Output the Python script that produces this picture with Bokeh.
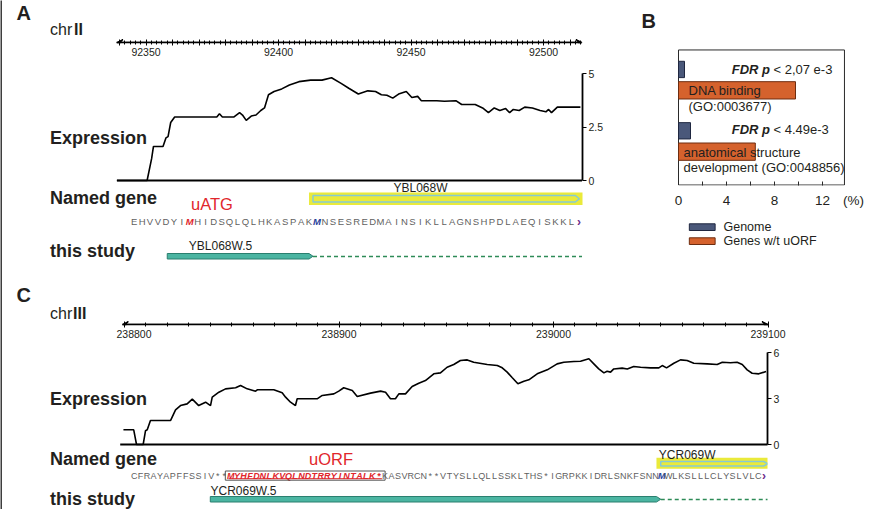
import numpy as np
from bokeh.plotting import figure
from bokeh.layouts import row, column
from bokeh.models import (Range1d, LinearAxis, FixedTicker, Label, Arrow, VeeHead,
                          ColumnDataSource, BasicTickFormatter)
from bokeh.core.properties import value
from bokeh.embed import file_html
from bokeh.resources import INLINE

FONT = "Liberation Sans"

# ---------------- data: panel A ----------------
A_CHR = "II"
A_AXIS_SPAN = [92339, 92514.5]
A_AXIS_LABELED = [92350, 92400, 92450, 92500]
A_EXPR_POS = [92339, 92350.4, 92352.1, 92352.8, 92356.4, 92357.5, 92358.3, 92359.3, 92360.8,
              92376.7, 92377.7, 92378.8, 92383.2, 92385.3, 92386.4, 92387.8, 92389.7, 92391.5,
              92393.3, 92394.7, 92396.2, 92398.3, 92401.2, 92404.1, 92407.7, 92412.1, 92416.4,
              92420.0, 92423.6, 92426.5, 92430.1, 92433.7, 92436.6, 92438.8, 92440.9, 92443.1,
              92445.3, 92448.2, 92450.3, 92452.5, 92453.9, 92459.7, 92462.6, 92466.9, 92469.1,
              92474.2, 92477.0, 92479.2, 92481.4, 92483.5, 92485.7, 92487.2, 92488.6, 92490.8,
              92492.9, 92495.8, 92498.7, 92500.9, 92501.9, 92503.0, 92505.2, 92513.9]
A_EXPR_VAL = [0, 0, 1.02, 1.59, 1.59, 1.99, 2.05, 2.71, 2.97,
              2.97, 3.12, 2.97, 2.97, 3.17, 3.06, 2.81, 3.01, 3.06,
              3.27, 3.39, 4.01, 4.16, 4.28, 4.46, 4.62, 4.69, 4.69,
              4.80, 4.54, 4.31, 4.04, 4.19, 4.16, 4.01, 3.98, 3.85,
              4.04, 4.16, 3.88, 3.93, 3.73, 3.73, 3.70, 3.73, 3.55,
              3.55, 3.39, 3.17, 3.39, 3.27, 3.36, 3.17, 3.32, 3.27,
              3.43, 3.39, 3.27, 3.21, 3.32, 3.17, 3.43, 3.43]
A_EXPR_TICKS = [0, 2.5, 5]
A_GENE_NAME = "YBL068W"
A_GENE_START = 92413
A_GENE_END = 92514
A_STUDY_NAME = "YBL068W.5"
A_STUDY_START = 92358
A_STUDY_END = 92413
A_SEQ = "EHVVDYIMHIDSQLQLHKASPAKMNSESREDMAINSIKLLAGNSHPDLAEQISKKL"
A_SEQ_START = 92344
A_UATG_INDEX = 7
A_ATG_INDEX = 23

# ---------------- data: panel B ----------------
B_TERMS = ["DNA binding", "anatomical structure"]
B_TERMS_2 = ["(GO:0003677)", "development (GO:0048856)"]
B_FDR = ["< 2,07 e-3", "< 4.49e-3"]
B_GENOME = [0.5, 1.0]
B_UORF = [9.75, 6.4]
B_TICKS = [0, 4, 8, 12]
B_MINOR = [2, 4, 6, 8, 10, 12]
B_UNIT = "(%)"
B_SERIES = ["Genome", "Genes w/t uORF"]

# ---------------- data: panel C ----------------
C_CHR = "III"
C_AXIS_SPAN = [238799, 239100]
C_AXIS_LABELED = [238800, 238900, 239000, 239100]
C_EXPR_POS = [238799.5, 238804.3, 238805.6, 238808.7, 238809.8, 238810.6, 238812.1, 238821.5, 238823.8, 238826.1,
              238829.2, 238831.6, 238834.6, 238837.8, 238840.1, 238840.9, 238844.0, 238847.1, 238851.8, 238854.1,
              238857.2, 238861.1, 238861.9, 238869.6, 238873.5, 238875.1, 238877.4, 238879.7, 238880.5, 238889.8,
              238892.2, 238897.6, 238899.9, 238902.2, 238906.2, 238908.5, 238914.7, 238919.4, 238921.7, 238924.0,
              238926.3, 238927.9, 238931.0, 238934.1, 238937.2, 238940.3, 238944.2, 238947.3, 238950.4, 238953.5,
              238956.6, 238959.8, 238962.8, 238969.1, 238973.8, 238976.1, 238978.4, 238980.8, 238983.4, 238986.2,
              238988.5, 238992.4, 238997.1, 239001.7, 239004.8, 239009.5, 239012.6, 239016.5, 239018.8, 239021.1,
              239023.5, 239025.0, 239026.6, 239028.1, 239032.0, 239034.4, 239037.4, 239040.6, 239045.2, 239049.1,
              239050.7, 239052.7, 239056.1, 239059.2, 239062.3, 239065.4, 239071.7, 239076.3, 239078.7, 239082.5,
              239085.6, 239088.0, 239090.3, 239092.6, 239095.7, 239099.1]
C_EXPR_VAL = [0.96, 0.96, 0, 0, 0.9, 0.96, 1.57, 1.57, 2.26, 2.54,
              2.65, 2.96, 2.54, 2.76, 2.54, 3.09, 3.41, 3.63, 3.70, 3.85,
              3.63, 3.48, 3.57, 3.57, 3.37, 3.09, 2.76, 2.54, 2.98, 2.98,
              3.2, 3.3, 3.48, 3.70, 3.52, 3.13, 3.35, 3.48, 3.41, 2.98,
              2.98, 3.3, 3.3, 3.78, 4.0, 4.17, 4.61, 4.67, 5.04, 5.22,
              5.48, 5.52, 5.37, 5.22, 5.15, 5.0, 4.72, 4.35, 3.96, 4.13,
              4.22, 4.61, 4.87, 5.26, 5.37, 5.41, 5.43, 5.59, 5.26, 4.93,
              4.67, 4.78, 4.72, 4.93, 4.98, 4.93, 5.09, 5.04, 5.0, 5.0,
              5.15, 5.0, 5.3, 5.52, 5.48, 5.3, 5.26, 5.22, 5.37, 5.33,
              5.37, 5.22, 4.87, 4.65, 4.61, 4.76]
C_EXPR_TICKS = [0, 3, 6]
C_GENE_NAME = "YCR069W"
C_GENE_START = 239049
C_GENE_END = 239100
C_STUDY_NAME = "YCR069W.5"
C_STUDY_START = 238840
C_STUDY_END = 239050
C_SEQ = "CFRAYAPFFSSIV**MYHFDNLKVQLNDTRRYINTALK*KASVRCN**VTYSLLQLLSSKLTHS*IGRPKKIDRLSNKFSNNMWLKSLLLCLYSLVLC"
C_SEQ_START = 238803
C_UORF_INDEX = (15, 38)
C_ATG_INDEX = 82

# ---------------- styles / layout calibration ----------------
DARK = "#231f20"
RED = "#e1262c"
BLUE = "#27409a"
PURPLE = "#6b2a8c"
SEQ_GRAY = "#5f5f5f"
YELLOW = "#eaea3a"
GENE_LINE = "#86cbd4"
TEAL = "#4bb5a2"
TEAL_LINE = "#2b7f6f"
DASH = "#2e8b57"
NAVY = "#4a587a"
NAVY_LINE = "#1f2740"
ORANGE = "#d5622d"
ORANGE_LINE = "#6e2d10"

A_PX0, A_BP0, A_SCALE = 344.3, 92425, 2.65
C_PX0, C_BP0, C_SCALE = 124.0, 238800, 2.145
B_PX0, B_SCALE, B_BOX_MAX = 678.0, 12.0, 13.83


def bpA(px):
    return A_BP0 + (px - A_PX0) / A_SCALE


def bpC(px):
    return C_BP0 + (px - C_PX0) / C_SCALE


def pctB(px):
    return (px - B_PX0) / B_SCALE


def make_fig(width, height, page_left, page_top, fl, fr, ft, fb, xr=None, yr=None):
    if xr is None:
        xr = Range1d(fl, fr)
    if yr is None:
        yr = Range1d(fb, ft)
    p = figure(width=width, height=height, x_range=xr, y_range=yr,
               output_backend="svg", toolbar_location=None, title=None,
               x_axis_location=None, y_axis_location=None,
               min_border_left=int(round(fl - page_left)),
               min_border_right=int(round(page_left + width - fr)),
               min_border_top=int(round(ft - page_top)),
               min_border_bottom=int(round(page_top + height - fb)))
    p.grid.visible = False
    p.outline_line_color = None
    p.background_fill_color = "white"
    p.border_fill_color = "white"
    p.extra_x_ranges = {"px": Range1d(fl, fr)}
    p.extra_y_ranges = {"py": Range1d(fb, ft)}
    return p


def lab(p, x, y, text, size, style="normal", color=DARK, align="left"):
    p.add_layout(Label(x=x, y=y, x_range_name="px", y_range_name="py", text=text,
                       text_font=FONT, text_font_size=f"{size}px", text_font_style=style,
                       text_color=color, text_align=align, text_baseline="middle"))


def chr_axis(p, span, majors, minors, labeled):
    over = {t: (str(t) if t in labeled else "") for t in majors}
    ax = LinearAxis(ticker=FixedTicker(ticks=majors, minor_ticks=minors), bounds=tuple(span),
                    formatter=BasicTickFormatter(use_scientific=False),
                    major_label_overrides=over,
                    major_tick_in=3, major_tick_out=3, minor_tick_in=2, minor_tick_out=2,
                    axis_line_width=1.5, major_tick_line_width=1, minor_tick_line_width=1,
                    major_label_standoff=2, major_label_text_font=FONT,
                    major_label_text_font_size="10.5px", major_label_text_color=DARK)
    p.add_layout(ax, "below")
    p.add_layout(Arrow(start=VeeHead(size=6, line_width=1.2), end=VeeHead(size=6, line_width=1.2),
                       x_start=span[0], y_start=0, x_end=span[1], y_end=0,
                       line_width=1.5, line_color="black"))


def expr_axis(p, ticks):
    over = {t: f"{t:g}" for t in ticks}
    ax = LinearAxis(ticker=FixedTicker(ticks=ticks), bounds=(ticks[0], ticks[-1]),
                    major_label_overrides=over, major_tick_in=0, major_tick_out=4,
                    minor_tick_in=0, minor_tick_out=0, axis_line_width=1.8,
                    major_tick_line_width=1.2, major_label_standoff=2,
                    major_label_text_font=FONT, major_label_text_font_size="10.5px",
                    major_label_text_color=DARK)
    p.add_layout(ax, "right")


def seq_glyph(p, seq, start, y, size, special):
    xs = [start + 3 * i + 1.5 for i in range(len(seq))]
    colors, styles = [], []
    for i in range(len(seq)):
        c, s = special.get(i, (SEQ_GRAY, "normal"))
        colors.append(c)
        styles.append(s)
    src = ColumnDataSource(dict(x=xs, ch=list(seq), color=colors, style=styles))
    p.text(x="x", y=y, text="ch", source=src, y_range_name="py", text_color="color",
           text_font_style="style", text_font=value(FONT), text_font_size=f"{size}px",
           text_align="center", text_baseline="middle")


def arrow_bar(p, x0, x1, ytop, ybot, tip, **kw):
    ym = (ytop + ybot) / 2
    p.patch([x0, x1 - tip, x1, x1 - tip, x0], [ytop, ytop, ym, ybot, ybot], y_range_name="py", **kw)


# ---------------- left strip ----------------
strip = figure(width=2, height=509, output_backend="svg", toolbar_location=None, title=None,
               x_axis_location=None, y_axis_location=None, min_border=0,
               background_fill_color="#3d3d3d", border_fill_color="#3d3d3d")
strip.outline_line_color = None
strip.grid.visible = False

# ---------------- Panel A ----------------
labA1 = make_fig(114, 62, 2, 0, 2, 116, 0, 62)
lab(labA1, 16, 19, "A", 20, "bold")
lab(labA1, 49.5, 43, "chr", 16)
lab(labA1, 73.5, 43, A_CHR, 16, "bold")

axA1 = make_fig(514, 62, 116, 0, 116, 630, 0, 42, Range1d(bpA(116), bpA(630)), Range1d(0, 1))
a_majors = list(range(92340, 92511, 10))
a_minors = list(range(92340, 92515, 2))
chr_axis(axA1, A_AXIS_SPAN, a_majors, a_minors, A_AXIS_LABELED)

pA2 = make_fig(628, 223, 2, 62, 2, 582, 62, 285, Range1d(bpA(2), bpA(582)),
               Range1d((180 - 285) / 21.4, (180 - 62) / 21.4))
expr_axis(pA2, A_EXPR_TICKS)
pA2.segment(x0=[A_AXIS_SPAN[0]], y0=[0], x1=[A_AXIS_SPAN[1]], y1=[0], line_width=2, line_color="black")
pA2.line(A_EXPR_POS, A_EXPR_VAL, line_color="black", line_width=1.6)
pA2.quad(left=[A_GENE_START - 1.5], right=[A_GENE_END + 2], top=[192], bottom=[204.5],
         y_range_name="py", fill_color=YELLOW, line_color=None)
arrow_bar(pA2, A_GENE_START, A_GENE_END - 0.5, 195, 201.5, 1.5,
          fill_alpha=0, line_color=GENE_LINE, line_width=1.5)
seq_glyph(pA2, A_SEQ, A_SEQ_START, 221, 9.5,
          {A_UATG_INDEX: (RED, "bold italic"), A_ATG_INDEX: (BLUE, "bold italic")})
lab(pA2, 578.5, 221, "\u203a", 12, "bold", PURPLE, align="center")
arrow_bar(pA2, A_STUDY_START, A_STUDY_END, 253, 258.5, 1.5,
          fill_color=TEAL, line_color=TEAL_LINE, line_width=1)
pA2.segment(x0=[A_STUDY_END], y0=[256], x1=[A_AXIS_SPAN[1]], y1=[256], y_range_name="py",
            line_dash="4 3", line_color=DASH, line_width=1.5)
lab(pA2, 49.5, 137, "Expression", 18, "bold")
lab(pA2, 49.5, 197, "Named gene", 18, "bold")
lab(pA2, 49.5, 250, "this study", 18, "bold")
lab(pA2, 190.5, 203, "uATG", 16.5, "normal", RED)
lab(pA2, 420, 187.5, A_GENE_NAME, 12, align="center")
lab(pA2, 220, 245, A_STUDY_NAME, 12, align="center")

# ---------------- Panel B ----------------
pB = make_fig(248, 210, 630, 0, 632, 878, 0, 187, Range1d(pctB(632), pctB(878)), Range1d(187, 0))
pB.quad(left=[0], right=[B_BOX_MAX], top=[50], bottom=[186.5], fill_alpha=0,
        line_color="#2a2a2a", line_width=1)
pB.hbar(y=[69.7, 131.7], height=16.5, left=0, right=B_GENOME,
        fill_color=NAVY, line_color=NAVY_LINE, line_width=1)
pB.hbar(y=[90.8, 152.8], height=17.5, left=0, right=B_UORF,
        fill_color=ORANGE, line_color=ORANGE_LINE, line_width=1)
unit_pos = pctB(853)
b_over = {t: str(t) for t in B_TICKS}
b_over[unit_pos] = B_UNIT
bax = LinearAxis(ticker=FixedTicker(ticks=B_TICKS + [unit_pos], minor_ticks=B_MINOR),
                 major_label_overrides=b_over,
                 major_tick_in=0, major_tick_out=0, minor_tick_in=4, minor_tick_out=0,
                 minor_tick_line_color="#2a2a2a", axis_line_color=None, major_label_standoff=7,
                 major_label_text_font=FONT, major_label_text_font_size="13.5px",
                 major_label_text_color=DARK)
pB.add_layout(bax, "below")
lab(pB, 641, 21, "B", 20, "bold")
for yy, fdr in zip([69.5, 130.7], B_FDR):
    lab(pB, 769.5, yy, "FDR p", 13, "bold italic", align="right")
    lab(pB, 773, yy, fdr, 13)
lab(pB, 688, 90.8, B_TERMS[0], 13)
lab(pB, 688, 107.5, B_TERMS_2[0], 13)
lab(pB, 683, 154, B_TERMS[1], 13)
lab(pB, 683, 168.5, B_TERMS_2[1], 13)

# legend for panel B (swatches + labels)
pBl = make_fig(248, 75, 630, 210, 630, 878, 210, 285)
sw_top = [223.3, 237.3]
pBl.quad(left=[687.3, 687.3], right=[713.3, 713.3], top=sw_top, bottom=[t + 6.7 for t in sw_top],
         fill_color=[NAVY, ORANGE], line_color=[NAVY_LINE, ORANGE_LINE], line_width=1)
for t, name in zip(sw_top, B_SERIES):
    lab(pBl, 721.7, t + 3.4, name, 12.5)

# ---------------- Panel C ----------------
labC1 = make_fig(114, 55, 2, 285, 2, 116, 285, 340)
lab(labC1, 16, 299, "C", 20, "bold")
lab(labC1, 49.5, 325, "chr", 16)
lab(labC1, 72.5, 325, C_CHR, 16, "bold")

axC1 = make_fig(762, 55, 116, 285, 116, 878, 285, 325, Range1d(bpC(116), bpC(878)), Range1d(0, 1))
c_minors = list(range(238800, 239101, 10))
chr_axis(axC1, C_AXIS_SPAN, C_AXIS_LABELED, c_minors, C_AXIS_LABELED)

pC2 = make_fig(876, 169, 2, 340, 2, 767, 340, 509, Range1d(bpC(2), bpC(767)),
               Range1d((444 - 509) / 15.33, (444 - 340) / 15.33))
expr_axis(pC2, C_EXPR_TICKS)
pC2.segment(x0=[C_AXIS_SPAN[0] - 1], y0=[0], x1=[C_AXIS_SPAN[1]], y1=[0], line_width=2, line_color="black")
pC2.line(C_EXPR_POS, C_EXPR_VAL, line_color="black", line_width=1.6)
pC2.quad(left=[C_GENE_START - 1], right=[C_GENE_END + 2], top=[457.3], bottom=[468.3],
         y_range_name="py", fill_color=YELLOW, line_color=None)
arrow_bar(pC2, C_GENE_START + 1, C_GENE_END, 461, 465.5, 2,
          fill_alpha=0, line_color=GENE_LINE, line_width=1.5)
u0, u1 = C_UORF_INDEX
special_c = {i: (RED, "bold italic") for i in range(u0, u1 + 1)}
special_c[C_ATG_INDEX] = (BLUE, "bold italic")
seq_glyph(pC2, C_SEQ, C_SEQ_START, 475, 9, special_c)
pC2.quad(left=[C_SEQ_START + 3 * u0 - 1], right=[C_SEQ_START + 3 * (u1 + 1) + 1.5],
         top=[470.5], bottom=[479.7], y_range_name="py", fill_alpha=0,
         line_color="#555555", line_width=1)
pC2.segment(x0=[C_SEQ_START + 3 * u0 + 0.5], y0=[478.2], x1=[C_SEQ_START + 3 * (u1 + 1)], y1=[478.2],
            y_range_name="py", line_color=RED, line_width=1)
lab(pC2, 763.5, 475, "\u203a", 12, "bold", PURPLE, align="center")
arrow_bar(pC2, C_STUDY_START, C_STUDY_END, 496, 501.5, 2,
          fill_color=TEAL, line_color=TEAL_LINE, line_width=1)
pC2.segment(x0=[C_STUDY_END], y0=[499], x1=[C_AXIS_SPAN[1]], y1=[499], y_range_name="py",
            line_dash="4 3", line_color=DASH, line_width=1.5)
lab(pC2, 49.5, 398.5, "Expression", 18, "bold")
lab(pC2, 49.5, 458, "Named gene", 18, "bold")
lab(pC2, 49.5, 498, "this study", 18, "bold")
lab(pC2, 308.5, 458, "uORF", 16.5, "normal", RED)
lab(pC2, 686.7, 454, C_GENE_NAME, 12, align="center")
lab(pC2, 210, 490, C_STUDY_NAME, 12, align="left")

top_left = column(row(labA1, axA1), pA2)
top_right = column(pB, pBl)
bottom = column(row(labC1, axC1), pC2)
root = row(strip, column(row(top_left, top_right), bottom))

open("out.html", "w").write(file_html(root, INLINE))
